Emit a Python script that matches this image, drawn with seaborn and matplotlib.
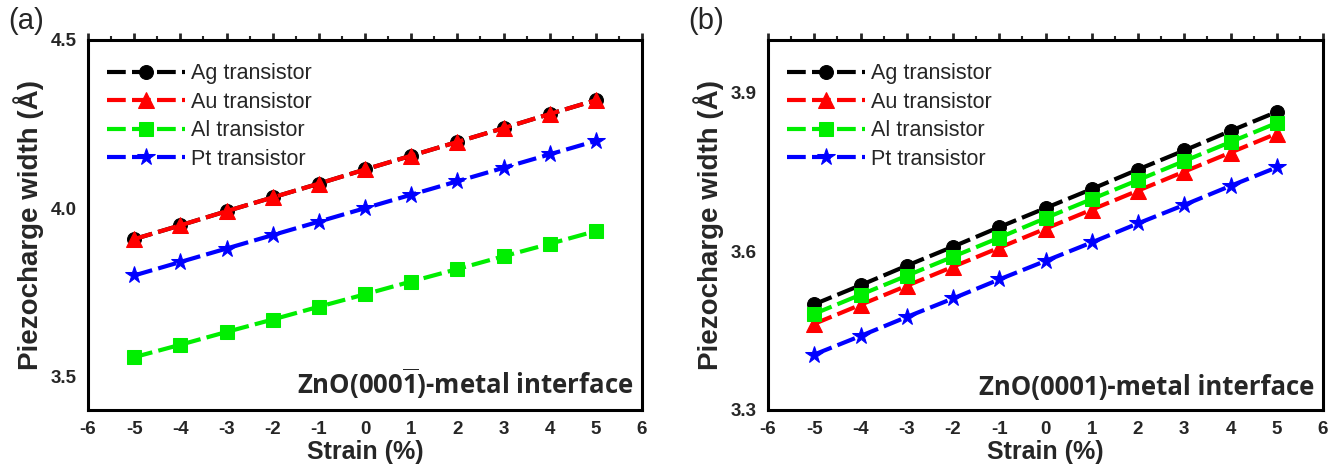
import os
import matplotlib
matplotlib.use("Agg")
import matplotlib.pyplot as plt
import seaborn as sns
import pandas as pd
from matplotlib.ticker import MultipleLocator
from matplotlib import font_manager
from matplotlib.font_manager import FontProperties

sns.set_style("white")
plt.rcParams['font.family'] = ['Liberation Sans', 'DejaVu Sans']
plt.rcParams['axes.unicode_minus'] = False
plt.rcParams['mathtext.fontset'] = 'custom'
plt.rcParams['mathtext.bf'] = 'Open Sans:bold'
plt.rcParams['mathtext.rm'] = 'Open Sans:bold'

strain = [-5, -4, -3, -2, -1, 0, 1, 2, 3, 4, 5]
series_names = ["Ag transistor", "Au transistor", "Al transistor", "Pt transistor"]

# Panel (a): ZnO(000-1)-metal interface
a_ag = [3.908, 3.949, 3.991, 4.032, 4.073, 4.115, 4.156, 4.197, 4.238, 4.280, 4.321]
a_au = [3.908, 3.949, 3.991, 4.032, 4.073, 4.115, 4.156, 4.197, 4.238, 4.280, 4.321]
a_al = [3.557, 3.594, 3.632, 3.669, 3.707, 3.744, 3.782, 3.819, 3.857, 3.894, 3.932]
a_pt = [3.800, 3.840, 3.880, 3.920, 3.960, 4.000, 4.040, 4.080, 4.120, 4.160, 4.200]

# Panel (b): ZnO(0001)-metal interface
b_ag = [3.500, 3.536, 3.573, 3.609, 3.646, 3.682, 3.718, 3.755, 3.791, 3.828, 3.864]
b_au = [3.463, 3.499, 3.535, 3.571, 3.607, 3.643, 3.679, 3.715, 3.751, 3.787, 3.823]
b_al = [3.482, 3.518, 3.554, 3.590, 3.626, 3.663, 3.699, 3.735, 3.771, 3.807, 3.843]
b_pt = [3.405, 3.440, 3.476, 3.511, 3.547, 3.582, 3.617, 3.653, 3.688, 3.724, 3.759]

colors = ["#000000", "#FF0000", "#00EE00", "#0000FF"]
markers = ["o", "^", "s", "*"]
msizes = [10, 11, 10, 13]


def font_file(basename):
    for f in font_manager.fontManager.ttflist:
        if os.path.basename(f.fname).lower() == basename.lower():
            return f.fname
    return None


def fprop(basename, size, weight):
    path = font_file(basename)
    if path:
        return FontProperties(fname=path, size=size)
    return FontProperties(family=['Liberation Sans', 'DejaVu Sans'], size=size, weight=weight)


tick_fp = fprop("LiberationSans-Bold.ttf", 13.5, 'bold')
xlabel_fp = fprop("LiberationSans-Bold.ttf", 18, 'bold')
ylabel_fp = fprop("LiberationSans-Bold.ttf", 20, 'bold')
legend_fp = fprop("LiberationSans-Regular.ttf", 15.5, 'normal')
panel_fp = fprop("LiberationSans-Regular.ttf", 21, 'normal')

fig = plt.figure(figsize=(13.44, 4.68), dpi=100)
ax_a = fig.add_axes([88/1344, 58/468, 554/1344, 370/468])
ax_b = fig.add_axes([768/1344, 58/468, 555/1344, 370/468])


def draw(ax, data, ylim, ymajor, annot, label):
    for name, vals, c, m, ms in zip(series_names, data, colors, markers, msizes):
        df = pd.DataFrame({"x": strain, "y": vals})
        sns.lineplot(data=df, x="x", y="y", ax=ax, color=c, marker=m,
                     markersize=ms, markeredgecolor=c, linewidth=3,
                     linestyle=(0, (4.5, 1.5)), label=name)
    ax.set_xlim(-6, 6)
    ax.set_ylim(*ylim)
    ax.xaxis.set_major_locator(MultipleLocator(1))
    ax.xaxis.set_minor_locator(MultipleLocator(0.5))
    ax.yaxis.set_major_locator(MultipleLocator(ymajor))
    ax.yaxis.set_minor_locator(MultipleLocator(ymajor / 2))
    ax.tick_params(axis='both', which='major', direction='out', length=5, width=2, pad=3)
    ax.tick_params(axis='both', which='minor', direction='out', length=3, width=1.5)
    ax.tick_params(axis='x', which='both', top=True, labeltop=False)
    for sp in ax.spines.values():
        sp.set_linewidth(2.2)
        sp.set_color('black')
    ax.set_xlabel("Strain (%)", fontproperties=xlabel_fp, labelpad=1)
    ax.set_ylabel("Piezocharge width (Å)", fontproperties=ylabel_fp, labelpad=5)
    ax.legend(loc='upper left', frameon=False, prop=legend_fp,
              handlelength=3.6, handletextpad=0.3, labelspacing=0.35, borderaxespad=0.5,
              bbox_to_anchor=(0.0, 0.99))
    ax.text(0.985, 0.025, annot, transform=ax.transAxes, ha='right', va='bottom',
            fontsize=18.5, fontweight='bold', family=['Open Sans', 'DejaVu Sans'])
    fig.text(ax.get_position().x0 - 80/1344, 0.955, label, fontproperties=panel_fp,
             ha='left', va='center')


draw(ax_a, [a_ag, a_au, a_al, a_pt], (3.4, 4.5), 0.5,
     r"ZnO(000$\overline{\mathbf{1}}$)-metal interface", "(a)")
draw(ax_b, [b_ag, b_au, b_al, b_pt], (3.3, 4.0), 0.3,
     "ZnO(0001)-metal interface", "(b)")

fig.canvas.draw()
for ax in (ax_a, ax_b):
    for t in ax.get_xticklabels() + ax.get_yticklabels():
        t.set_fontproperties(tick_fp)

fig.savefig("out.png", dpi=100)
